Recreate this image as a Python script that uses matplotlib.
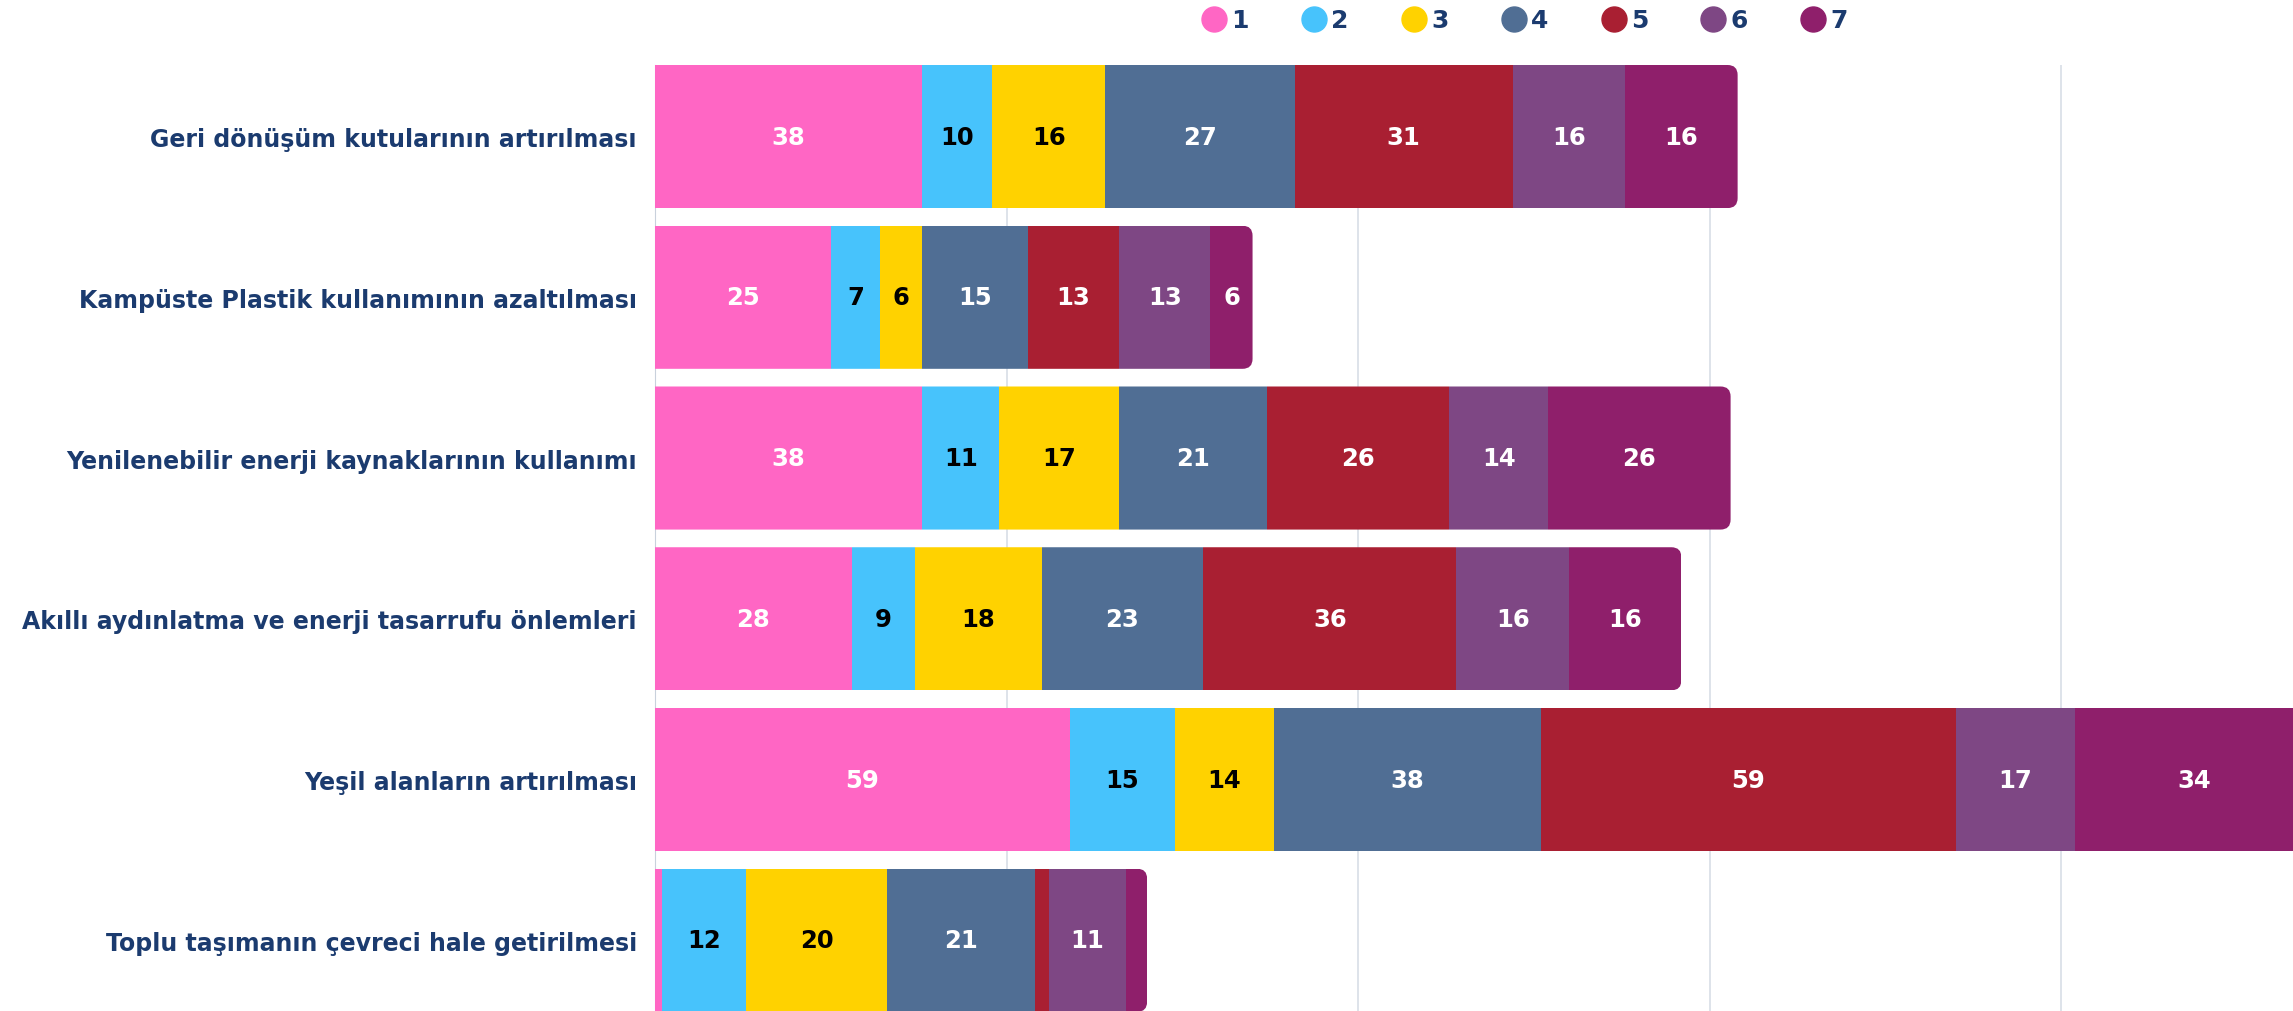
import matplotlib
matplotlib.use("Agg")
import matplotlib.pyplot as plt
from matplotlib.patches import FancyBboxPatch
from matplotlib.lines import Line2D

categories = [
    "Geri dönüşüm kutularının artırılması",
    "Kampüste Plastik kullanımının azaltılması",
    "Yenilenebilir enerji kaynaklarının kullanımı",
    "Akıllı aydınlatma ve enerji tasarrufu önlemleri",
    "Yeşil alanların artırılması",
    "Toplu taşımanın çevreci hale getirilmesi",
]
series_names = ["1", "2", "3", "4", "5", "6", "7"]
s1 = [38, 25, 38, 28, 59, 1]
s2 = [10, 7, 11, 9, 15, 12]
s3 = [16, 6, 17, 18, 14, 20]
s4 = [27, 15, 21, 23, 38, 21]
s5 = [31, 13, 26, 36, 59, 2]
s6 = [16, 13, 14, 16, 17, 11]
s7 = [16, 6, 26, 16, 34, 3]
series = [s1, s2, s3, s4, s5, s6, s7]

colors = ["#FF66C4", "#47C3FC", "#FFD200", "#506E94", "#A91F32", "#7E4784", "#8F1F6B"]
label_colors = ["white", "black", "black", "white", "white", "white", "white"]
navy = "#1B3B6F"

W, H = 2293, 1012
fig = plt.figure(figsize=(W / 100, H / 100), dpi=100)
ax = fig.add_axes([655 / W, 0, 1 - 655 / W, 1 - 66 / H])

bar_h = 0.89
ys = list(range(len(categories)))
totals = [sum(s[i] for s in series) for i in ys]

# clip paths for rounded right ends
rx = 1.42
ry = 0.062
clips = []
for i in ys:
    p = FancyBboxPatch((-20, i - bar_h / 2), totals[i] + 20, bar_h,
                       boxstyle=f"round,pad=0,rounding_size={rx}",
                       mutation_aspect=ry / rx, transform=ax.transData)
    clips.append(p)

left = [0] * len(categories)
for k, s in enumerate(series):
    bars = ax.barh(ys, s, left=left, height=bar_h, color=colors[k], zorder=3,
                   linewidth=0)
    for i, b in enumerate(bars):
        b.set_clip_path(clips[i])
        if s[i] >= 5:
            ax.text(left[i] + s[i] / 2, i, str(s[i]), ha="center", va="center",
                    color=label_colors[k], fontsize=17.5, fontweight="bold", zorder=4)
    left = [l + v for l, v in zip(left, s)]

ax.set_xlim(0, 233)
ax.set_ylim(len(categories) - 1 + 0.44, -bar_h / 2)
ax.set_xticks([50, 100, 150, 200])
ax.set_xticklabels([])
ax.tick_params(axis="x", length=0)
ax.grid(axis="x", color="#D8DEE6", linewidth=1.2, zorder=0)
ax.set_yticks(ys)
ax.set_yticklabels(categories, fontsize=17, fontweight="bold", color=navy)
ax.tick_params(axis="y", length=0, pad=13)
for side in ["top", "right", "bottom"]:
    ax.spines[side].set_visible(False)
ax.spines["left"].set_color("#C9D1DC")
ax.spines["left"].set_zorder(1)

handles = [Line2D([], [], marker="o", linestyle="", markersize=18,
                  markerfacecolor=c, markeredgecolor=c) for c in colors]
leg = fig.legend(handles, series_names, loc="center", bbox_to_anchor=(0.665, 0.979),
                 ncol=7, frameon=False, fontsize=18, handletextpad=0.2,
                 columnspacing=2.1, handlelength=1.0)
for t in leg.get_texts():
    t.set_color(navy)
    t.set_fontweight("bold")

fig.savefig("out.png", dpi=100)
